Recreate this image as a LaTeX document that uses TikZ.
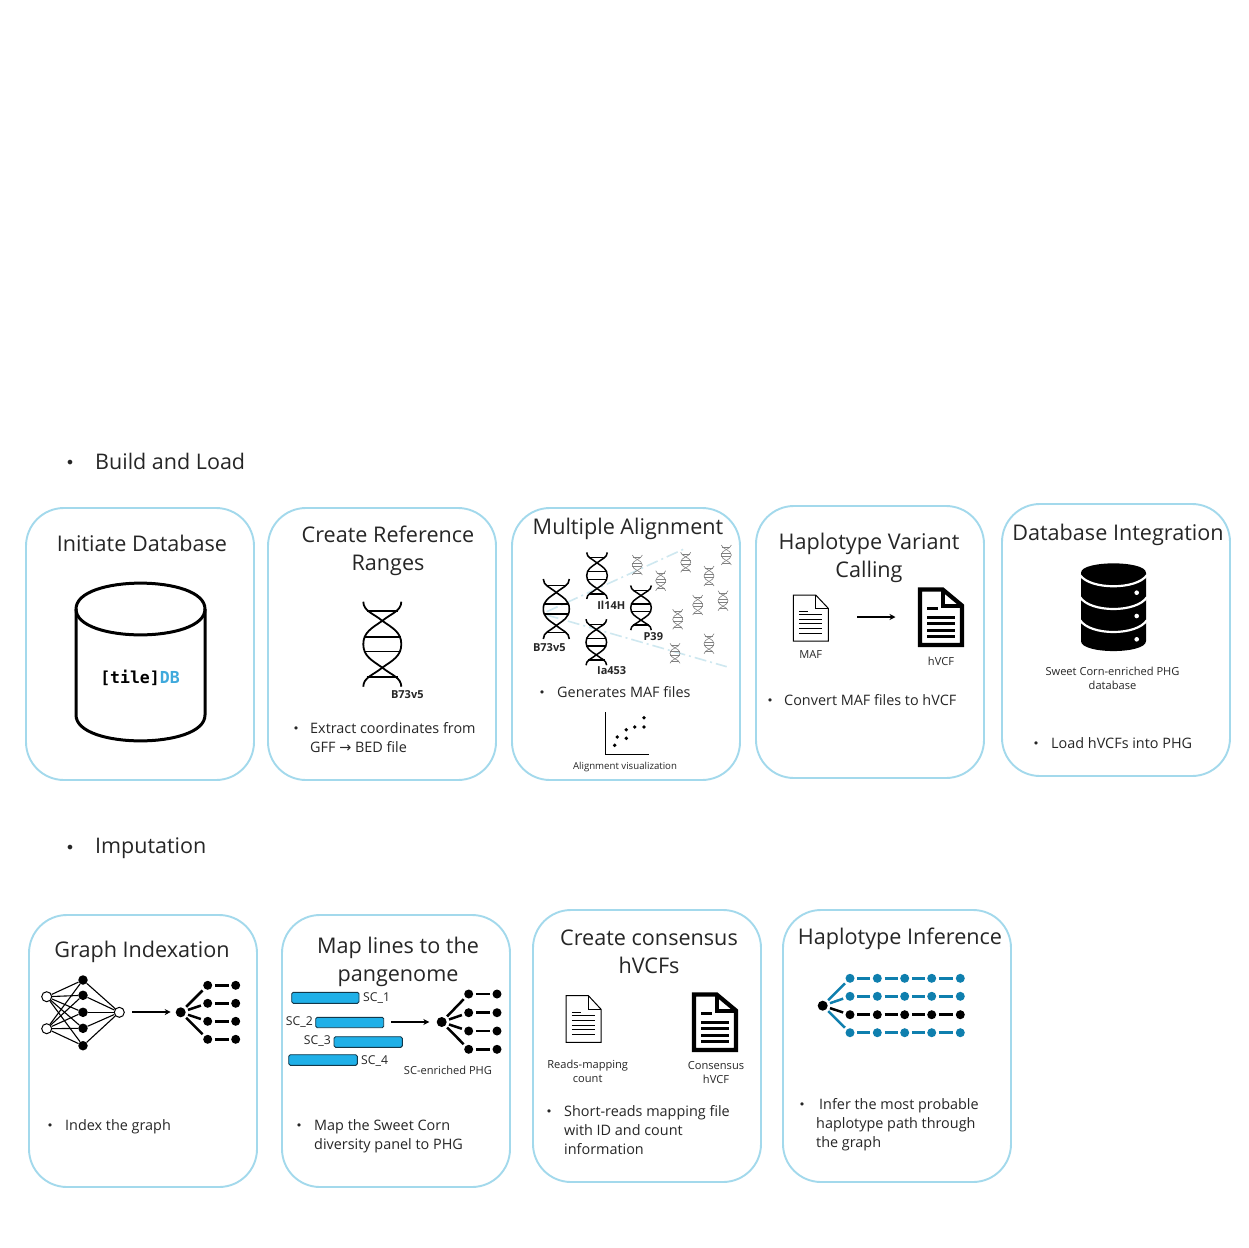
\documentclass[tikz,border=0pt]{standalone}
\usepackage{fontspec}
\setmainfont{Open Sans}
\newfontfamily\arrowfont{DejaVu Sans}
\newfontfamily\logofont{DejaVu Sans Mono}
\usetikzlibrary{arrows.meta}
\definecolor{boxblue}{HTML}{A3D9EC}
\definecolor{barblue}{HTML}{1FB0E8}
\definecolor{barline}{HTML}{12384A}
\definecolor{pathblue}{HTML}{0F7FAE}
\definecolor{logoblue}{HTML}{3FA9DC}
\definecolor{fadeblue}{HTML}{CFE8F0}
\definecolor{txt}{HTML}{262626}
\tikzset{
 card/.style={draw=boxblue,line width=1.9pt,fill=white,rounded corners=38pt,minimum width=228pt,minimum height=272pt,inner sep=0pt},
 heading/.style={inner sep=0pt,anchor=west,text=txt,font=\fontsize{21.5}{25}\selectfont},
 title/.style={inner sep=0pt,align=center,text=txt,font=\fontsize{21.6}{28}\selectfont},
 body/.style={inner sep=0pt,anchor=west,align=left,text=txt,font=\fontsize{14.4}{19}\selectfont},
 bul/.style={inner sep=0pt,yshift=-2.5pt,text=txt,font=\arrowfont\fontsize{11}{12}\selectfont},
 bulhead/.style={inner sep=0pt,yshift=-3.5pt,text=txt,font=\arrowfont\fontsize{16}{16}\selectfont},
 small/.style={inner sep=0pt,align=center,text=txt,font=\fontsize{11.1}{14}\selectfont},
 sclab/.style={inner sep=0pt,text=txt,font=\fontsize{12.2}{14}\selectfont},
 boldlab/.style={inner sep=0pt,text=txt,font=\fontsize{11}{12}\selectfont\bfseries},
 flow/.style={draw=black,line width=1.5pt,-{Stealth[length=6pt,width=6pt]}},
 dotb/.style={circle,fill=black,inner sep=0pt,minimum size=9.5pt},
 dotw/.style={circle,draw=black,fill=white,line width=1pt,inner sep=0pt,minimum size=10pt},
 dotp/.style={circle,fill=pathblue,inner sep=0pt,minimum size=9pt},
 dotk/.style={circle,fill=black,inner sep=0pt,minimum size=9pt},
 dotr/.style={circle,fill=black,inner sep=0pt,minimum size=10pt},
 net/.style={draw=black,line width=1.1pt},
 treelink/.style={draw=black,line width=2.5pt,shorten >=2.5pt,shorten <=2.5pt},
 scbar/.style={draw=barline,line width=.9pt,fill=barblue,rounded corners=1.5pt,inner sep=0pt,anchor=north west},
 plotdot/.style={circle,fill=black,inner sep=0pt,minimum size=3.8pt},
}
% helix centred at (#1,#2), half width #3, half height #4, line #5, colour #6
\newcommand{\helix}[6]{%
 \begin{scope}[shift={(#1,#2)},x=#3pt,y=#4pt,draw=#6,line width=#5pt]
  \draw (1,-1) .. controls (1,-.78) and (.45,-.72) .. (0,-.55) .. controls (-.55,-.38) and (-1,-.28) .. (-1,0) .. controls (-1,.28) and (-.55,.38) .. (0,.55) .. controls (.45,.72) and (1,.78) .. (1,1);
  \draw (-1,-1) .. controls (-1,-.78) and (-.45,-.72) .. (0,-.55) .. controls (.55,-.38) and (1,-.28) .. (1,0) .. controls (1,.28) and (.55,.38) .. (0,.55) .. controls (-.45,.72) and (-1,.78) .. (-1,1);
  \draw (-.82,-.78) -- (.82,-.78) (-.97,-.17) -- (.97,-.17) (-.97,.17) -- (.97,.17) (-.82,.78) -- (.82,.78);
 \end{scope}}
% document icon: left #1, top #2, width #3, height #4, line #5, fold x #6, inner line #7, list of rows #8
\newcommand{\docicon}[8]{%
 \begin{scope}[shift={(#1,#2)},x=#3pt,y=-#4pt,line width=#5pt,draw=black]
  \draw[fill=white,line join=miter] (0,0) -- (#6,0) -- (1,.29) -- (1,1) -- (0,1) -- cycle;
  \draw[line join=miter] (#6,0) -- (#6,.29) -- (1,.29);
  \draw[line width=#7pt] (.17,.35) -- (.42,.35);
  \foreach \r in {#8} {\draw[line width=#7pt] (.17,\r) -- (.83,\r);}
 \end{scope}}
\begin{document}
\begin{tikzpicture}[x=1pt,y=-1pt]
\useasboundingbox (0,0) rectangle (1248,1248);
\fill[white] (0,0) rectangle (1248,1248);

% section headings
\node[bulhead] (bulA) at (70,461) {•};
\node[heading] (headA) at (95,461) {Build and Load};
\node[bulhead] (bulB) at (70,846) {•};
\node[heading] (headB) at (95,848.5) {Imputation};

% cards
\node[card] (c1) at (140,644) {};
\node[card] (c2) at (382,644) {};
\node[card] (c3) at (626,644) {};
\node[card] (c4) at (870,642) {};
\node[card] (c5) at (1116,640) {};
\node[card] (c6) at (143,1051) {};
\node[card] (c7) at (396,1051) {};
\node[card] (c8) at (647,1046) {};
\node[card] (c9) at (897,1046) {};

% titles
\node[title] (t1) at (142,543.5) {Initiate Database};
\node[title] (t2) at (388,551) {Create Reference\\Ranges};
\node[title] (t3) at (628,529) {Multiple Alignment};
\node[title] (t4) at (869,558) {Haplotype Variant\\Calling};
\node[title] (t5) at (1118,535) {Database Integration};
\node[title] (t6) at (142,952) {Graph Indexation};
\node[title] (t7) at (398,962) {Map lines to the\\pangenome};
\node[title] (t8) at (649,952) {Create consensus\\hVCFs};
\node[title] (t9) at (900,939) {Haplotype Inference};

% body text
\node[bul] (b2) at (296,727) {•};
\node[body] (x2) at (310,737.5) {Extract coordinates from\\GFF {\arrowfont→} BED file};
\node[bul] (b3) at (542,691) {•};
\node[body] (x3) at (557,692) {Generates MAF files};
\node[bul] (b4) at (770,699) {•};
\node[body] (x4) at (784,700) {Convert MAF files to hVCF};
\node[bul] (b5) at (1036,742) {•};
\node[body] (x5) at (1051,743) {Load hVCFs into PHG};
\node[bul] (b6) at (50,1124) {•};
\node[body] (x6) at (65,1127) {Index the graph};
\node[bul] (b7) at (299,1124) {•};
\node[body] (x7) at (314,1136.5) {Map the Sweet Corn\\diversity panel to PHG};
\node[bul] (b8) at (549,1110) {•};
\node[body] (x8) at (564,1130) {Short-reads mapping file\\with ID and count\\information};
\node[bul] (b9) at (802,1103) {•};
\node[body] (x9) at (816,1125) {\hspace*{3pt}Infer the most probable\\haplotype path through\\the graph};

% card 1: database cylinder
\draw[line width=3pt,fill=white] (76,609) .. controls (76,574.5) and (205,574.5) .. (205,609) -- (205,715) .. controls (205,749.5) and (76,749.5) .. (76,715) -- cycle;
\draw[line width=3pt] (76,609) .. controls (76,643.5) and (205,643.5) .. (205,609);
\node[inner sep=0pt,font=\logofont\bfseries\fontsize{16.5}{16}\selectfont] (logo) at (140,678) {[tile]\textcolor{logoblue}{DB}};

% card 2
\helix{382.3}{644.2}{19}{42.5}{1.8}{black}
\node[boldlab] (l2) at (407.3,695) {B73v5};

% card 3
\coordinate (fanA) at (546.7,611.7);
\coordinate (fanB) at (683.3,549.3);
\coordinate (fanC) at (546.7,615);
\coordinate (fanD) at (726.7,666.7);
\draw[fadeblue,line width=1.6pt,dash pattern=on 12pt off 4pt on 2pt off 4pt] (fanA) -- (fanB);
\draw[fadeblue,line width=1.6pt,dash pattern=on 12pt off 4pt on 2pt off 4pt] (fanC) -- (fanD);
\foreach \p/\q in {637.3/565,660.7/580.7,685.7/562.3,709/576,726.3/555,697.7/605,723/600.7,677.7/619.3,709/643.7,675/653.3}
 {\helix{\p}{\q}{5}{10}{.6}{gray}}
\helix{556.3}{609}{13}{30}{1.6}{black}
\helix{597}{575.7}{10.3}{23.3}{1.5}{black}
\helix{641}{607.8}{10.3}{22.3}{1.5}{black}
\helix{596.3}{642.2}{10.3}{23}{1.5}{black}
\node[boldlab] (l3a) at (549.3,647.7) {B73v5};
\node[boldlab] (l3b) at (611.3,605.3) {Il14H};
\node[boldlab] (l3c) at (653.3,637) {P39};
\node[boldlab] (l3d) at (611.7,670.5) {Ia453};
\coordinate (axT) at (605.7,712.3);
\coordinate (axO) at (605.7,754.3);
\coordinate (axR) at (649,754.3);
\draw[black,line width=1pt] (axT) -- (axO) -- (axR);
\foreach \p/\q [count=\i] in {614.7/745.3,617.3/737,626.3/729.7,626.3/738.3,634.7/727,644/727,644/717.7}
 {\node[plotdot] (pd\i) at (\p,\q) {};}
\node[small,font=\fontsize{9.65}{12}\selectfont] (l3e) at (625,767) {Alignment visualization};

% card 4
\docicon{793.3}{595}{35}{46}{1}{.64}{1}{.43,.53,.63,.73,.84}
\docicon{920}{589.5}{42}{55.5}{4.2}{.54}{3}{.51,.62,.73,.84}
\coordinate (mafOut) at (857,617);
\coordinate (hvcfIn) at (895.5,617);
\draw[flow] (mafOut) -- (hvcfIn);
\node[small] (l4a) at (810.7,654.5) {MAF};
\node[small] (l4b) at (941,661) {hVCF};

% card 5: stacked database icon
\fill[black] (1081,572.8) .. controls (1081,560.2) and (1146,560.2) .. (1146,572.8) -- (1146,641) .. controls (1146,654.4) and (1081,654.4) .. (1081,641) -- cycle;
\foreach \a/\b in {575/590,597/613,620/636}
 {\draw[white,line width=2.2pt] (1080,\a) .. controls (1090,\b) and (1137,\b) .. (1147,\a);}
\foreach \q in {592.7,616,639.3} {\fill[white] (1136.7,\q) circle[radius=2.3pt];}
\node[small] (l5) at (1112.5,678) {Sweet Corn-enriched PHG\\database};

% card 6: network
\node[dotw] (w1) at (46.7,996.7) {};
\node[dotw] (w2) at (46.7,1028.7) {};
\node[dotw] (w3) at (119.3,1012.3) {};
\foreach \q [count=\i] in {980,995.3,1012.3,1028.3,1045.7} {\node[dotb] (n\i) at (83,\q) {};}
\foreach \i in {1,...,5} {
 \draw[net] (w1) -- (n\i);
 \draw[net] (w2) -- (n\i);
 \draw[net] (n\i) -- (w3);
}
\node[dotr] (rA) at (180.7,1012.3) {};
\foreach \q [count=\i] in {985.3,1003.3,1021.3,1039.3} {
 \node[dotk] (aL\i) at (207.7,\q) {};
 \node[dotk] (aR\i) at (235.7,\q) {};
 \draw[treelink] (rA) -- (aL\i);
 \draw[treelink] (aL\i) -- (aR\i);
}
\coordinate (netOut) at (132.3,1012);
\coordinate (treeIn) at (170.7,1012);
\draw[flow] (netOut) -- (treeIn);

% card 7: lines and tree
\draw[scbar] (291.7,992.3) rectangle (359,1003.3);
\draw[scbar] (315.7,1017.3) rectangle (383.7,1027.7);
\draw[scbar] (334,1036.7) rectangle (402.3,1047.3);
\draw[scbar] (288.7,1054.7) rectangle (357.3,1065.3);
\node[sclab,anchor=west] (sc1) at (363,998) {SC\_1};
\node[sclab,anchor=east] (sc2) at (313,1022) {SC\_2};
\node[sclab,anchor=east] (sc3) at (331,1041) {SC\_3};
\node[sclab,anchor=west] (sc4) at (361,1061) {SC\_4};
\node[dotr] (rB) at (441.7,1022) {};
\foreach \q [count=\i] in {994,1012.7,1031,1049.3} {
 \node[dotk] (bL\i) at (468.7,\q) {};
 \node[dotk] (bR\i) at (497,\q) {};
 \draw[treelink] (rB) -- (bL\i);
 \draw[treelink] (bL\i) -- (bR\i);
}
\coordinate (barOut) at (391,1022);
\coordinate (phgIn) at (429.3,1022);
\draw[flow] (barOut) -- (phgIn);
\node[small] (l7) at (448,1070) {SC-enriched PHG};

% card 8
\docicon{566}{995.7}{35}{46.6}{1}{.64}{1}{.43,.53,.63,.73,.84}
\docicon{694}{994.5}{42}{55.5}{4.2}{.54}{3}{.51,.62,.73,.84}
\node[small] (l8a) at (587.7,1071) {Reads-mapping\\count};
\node[small] (l8b) at (716,1073) {Consensus\\hVCF};

% card 9: haplotype paths
\node[dotr] (rC) at (822.7,1005.7) {};
\foreach \q/\nm/\col/\sty [count=\i] in {978.3/a/pathblue/dotp,996.3/b/pathblue/dotp,1014.7/c/black/dotk,1032.7/d/pathblue/dotp} {
 \foreach \p [count=\j] in {850,877.3,904.7,931.7,960.3} {\node[\sty] (h\i\j) at (\p,\q) {};}
 \draw[treelink,draw=\col] (rC) -- (h\i1);
 \foreach \j [remember=\j as \k (initially 1)] in {2,3,4,5} {\draw[treelink,draw=\col] (h\i\k) -- (h\i\j);}
}
\end{tikzpicture}
\end{document}
